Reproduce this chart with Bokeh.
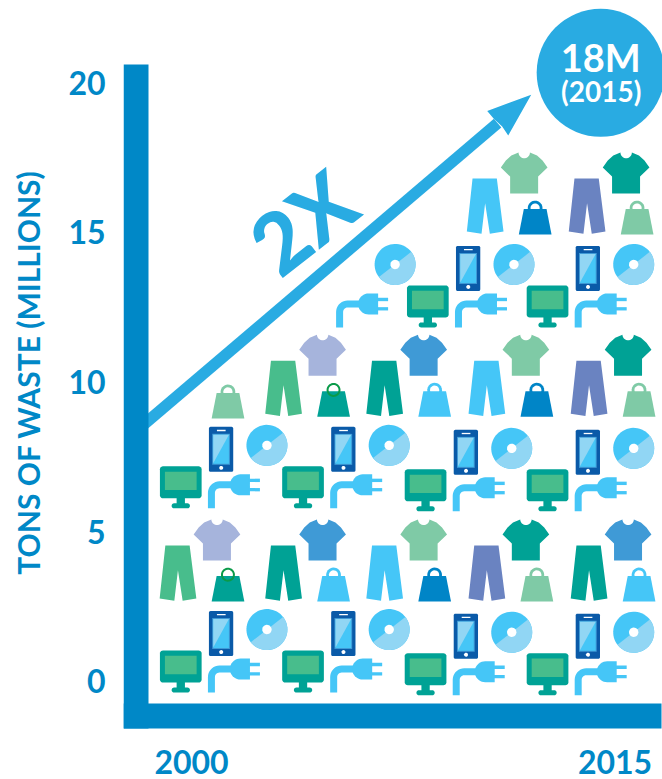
import numpy as np
from bokeh.plotting import figure
from bokeh.models import Range1d, FixedTicker
from bokeh.core.properties import value
from bokeh.embed import file_html
from bokeh.resources import INLINE

# ---- chart values (years / millions of tons) ----
Y_TICKS = [0, 5, 10, 15, 20]
X_TICKS = [2000, 2015]
Y_TITLE = "TONS OF WASTE (MILLIONS)"
CALLOUT_MAIN = "18M"
CALLOUT_SUB = "(2015)"
GROWTH_LABEL = "2X"

ARROW_YEARS = [1998.19, 2010.84]
ARROW_VALUES = [8.55, 18.71]
ARROW_TIP_YEAR = 2012.03
ARROW_TIP_VALUE = 19.66

ELECTRONICS_YEARS = [1998.88, 2003.21, 2007.55, 2011.87, 1998.88, 2003.21, 2007.55, 2011.87, 2007.63, 2011.87]
ELECTRONICS_VALUES = [1.10, 1.10, 1.01, 1.01, 7.25, 7.25, 7.15, 7.15, 13.29, 13.29]
PARTIAL_YEARS = [2003.42]
PARTIAL_VALUES = [13.29]

CLOTHES_YEARS = [1998.87, 2002.61, 2006.19, 2009.81, 2013.43,
                 2002.61, 2006.19, 2009.81, 2013.43,
                 2009.75, 2013.36]
CLOTHES_VALUES = [4.61, 4.61, 4.61, 4.61, 4.61,
                  10.78, 10.78, 10.78, 10.78,
                  16.86, 16.86]
GREEN, LAV, TEAL, BLUE, LIGHT, MINT, DEEP, SLATE = (
    "#48bd8c", "#a6b4dc", "#00a295", "#3f9ad6", "#45c6f7", "#7fcaa6", "#0085c7", "#6a83c1")
PANTS_COLORS = [GREEN, TEAL, LIGHT, SLATE, TEAL, GREEN, TEAL, LIGHT, SLATE, LIGHT, SLATE]
SHIRT_COLORS = [LAV, BLUE, MINT, TEAL, BLUE, LAV, BLUE, MINT, TEAL, MINT, TEAL]
BAG_COLORS = [TEAL, LIGHT, DEEP, MINT, LIGHT, TEAL, LIGHT, DEEP, MINT, DEEP, MINT]
LONE_BAG_YEAR = [1998.87]
LONE_BAG_VALUE = [10.72]
LONE_BAG_COLOR = [MINT]

# ---- layout ----
W, H = 662, 779
LEFT, BOTTOM = 123, 35
X0, X1 = 1997.59, 2016.68
SHIFT = 0.067   # tick labels sit 2px higher than the marks' read-off baseline
Y0, Y1 = -2.037 - SHIFT, 22.805 - SHIFT
AXIS = "#0088c7"
SKY = "#29abe2"
RING = "#0a9a49"
PHONE_D = "#0a5aa8"

PXY = (W - LEFT) / (X1 - X0)
PXM = (H - BOTTOM) / (Y1 - Y0)

p = figure(width=W, height=H, output_backend="svg", toolbar_location=None,
           x_range=Range1d(X0, X1), y_range=Range1d(Y0, Y1),
           min_border_left=LEFT, min_border_bottom=BOTTOM, min_border_top=0, min_border_right=0)
p.outline_line_color = None
p.grid.visible = False
p.background_fill_color = "white"

for ax, ticks in ((p.xaxis[0], X_TICKS), (p.yaxis[0], Y_TICKS)):
    ax.ticker = FixedTicker(ticks=ticks)
    ax.axis_line_color = None
    ax.major_tick_line_color = None
    ax.minor_tick_line_color = None
    ax.major_tick_out = 0
    ax.major_tick_in = 0
    ax.minor_tick_out = 0
    ax.major_label_text_color = AXIS
    ax.major_label_text_font = "Lato"
    ax.major_label_text_font_style = "bold"
p.xaxis[0].major_label_text_font_size = "32px"
p.yaxis[0].major_label_text_font_size = "32px"
p.xaxis[0].major_label_standoff = 5
p.yaxis[0].major_label_standoff = 18
p.yaxis[0].axis_label = Y_TITLE
p.yaxis[0].axis_label_text_color = AXIS
p.yaxis[0].axis_label_text_font = "Lato"
p.yaxis[0].axis_label_text_font_style = "bold"
p.yaxis[0].axis_label_text_font_size = "30px"
p.yaxis[0].axis_label_standoff = 19


def shape(year, val, pts):
    return [year + x / PXY for x, y in pts], [val - SHIFT - y / PXM for x, y in pts]


def arc(cx, cy, r, a0, a1, n=24):
    t = np.radians(np.linspace(a0, a1, n))
    return [(cx + r * np.cos(a), cy + r * np.sin(a)) for a in t]


def rrect(x0, y0, x1, y1, r):
    return (arc(x1 - r, y0 + r, r, -90, 0, 6) + arc(x1 - r, y1 - r, r, 0, 90, 6)
            + arc(x0 + r, y1 - r, r, 90, 180, 6) + arc(x0 + r, y0 + r, r, 180, 270, 6))


def draw(parts):
    xs, ys, cols = [], [], []
    for year, val, pts, col in parts:
        a, b = shape(year, val, pts)
        xs.append(a); ys.append(b); cols.append(col)
    if xs:
        p.patches(xs, ys, fill_color=cols, line_color=None)


# ---- icon outlines in pixels relative to the anchor ----
PANTS = [(5.7, 0), (30, 0), (36.7, 53), (23, 55.3), (18.3, 24.7), (14.7, 55.3), (0, 53)]
SHIRT = ([(9.3, 41), (9.3, 24), (0, 15), (5, 8), (10.5, 3), (17.7, 0)]
         + arc(23.4, 0, 5.7, 180, 0, 14)
         + [(36.2, 3), (41.7, 8), (46.7, 15), (37.3, 24), (37.3, 41)])
BAG_BODY = [(5, 8), (27.7, 8), (32.7, 33.5), (0, 33.5)]
BAG_OUT = arc(16.3, 7, 7.4, 0, 360)
BAG_HOLE = arc(16.3, 7, 4.6, 0, 360)
BAG_RING = arc(16.3, 6.8, 6, 0, 360)
MON_BODY = rrect(0, 0, 41.7, 32, 3)
MON_SCREEN = [(5, 5.3), (36.7, 5.3), (36.7, 23.7), (5, 23.7)]
MON_NECK = [(16.7, 31), (25, 31), (25, 38), (16.7, 38)]
MON_BASE = rrect(11.7, 37, 30, 42, 2.4)
PHONE = rrect(0, 0, 24.3, 45, 1.6)
PH_FRAME = [(3.3, 7), (21, 7), (21, 38), (3.3, 38)]
PH_INNER = [(4.3, 8), (20, 8), (20, 37), (4.3, 37)]
PH_GLARE = [(4.3, 8), (20, 8), (4.3, 36.5)]
PH_SPK = [(8, 3), (16.7, 3), (16.7, 4.3), (8, 4.3)]
PH_BTN = arc(12.3, 41, 2, 0, 360, 14)
DISC_DARK = arc(0, 0, 20.5, 0, 360, 60)
DISC_LIGHT = arc(0, 0, 20.5, -38, 142, 40)
DISC_HOLE = arc(0, 0, 4.7, 0, 360, 20)
PLUG_CORD = ([(0, 34), (0, 18.5)] + arc(11.5, 18.5, 11.5, 180, 270, 10) + [(24, 7), (24, 14)]
             + arc(11.5, 18.5, 4.5, 270, 180, 8) + [(7, 34)])
PLUG_HEAD = arc(32.5, 10.5, 10.5, 90, 270, 20) + [(42, 0), (42, 21)]
PRONG_A = [(41, 4.3), (52, 4.3), (52, 7.7), (41, 7.7)]
PRONG_B = [(41, 13.7), (52, 13.7), (52, 17), (41, 17)]
ARROW_HEAD = [(0, 0), (-44, 16.4), (-37.4, 24), (-29, 31.7), (-23, 40.7)]


def off(pts, dx, dy):
    return [(x + dx, y + dy) for x, y in pts]


# arrow first, axis bars above it
p.line(ARROW_YEARS, [v - SHIFT for v in ARROW_VALUES], line_color=SKY, line_width=11.4)
draw([(ARROW_TIP_YEAR, ARROW_TIP_VALUE, ARROW_HEAD, SKY)])

p.quad(left=[X0], right=[X0 + 25 / PXY], bottom=[Y0 + 16 / PXM], top=[Y1 - 64 / PXM],
       fill_color=AXIS, line_color=None)
p.quad(left=[X0], right=[X1 - 1 / PXY], bottom=[Y0 + 16 / PXM], top=[Y0 + 41 / PXM],
       fill_color=AXIS, line_color=None)

# clothes
parts = []
for year, val, pc, sc, bc in zip(CLOTHES_YEARS, CLOTHES_VALUES, PANTS_COLORS, SHIRT_COLORS, BAG_COLORS):
    parts.append((year, val, PANTS, pc))
    parts.append((year, val, off(SHIRT, 34, -26), sc))
draw(parts)

bags = []
rings_x, rings_y = [], []
for year, val, bc in zip(CLOTHES_YEARS + LONE_BAG_YEAR, CLOTHES_VALUES + LONE_BAG_VALUE, BAG_COLORS + LONE_BAG_COLOR):
    if bc == TEAL:
        bags.append((year, val, off(BAG_BODY, 52, 22.5), bc))
        a, b = shape(year, val, off(BAG_RING, 52, 22.5))
        rings_x.append(a); rings_y.append(b)
    else:
        bags.append((year, val, off(BAG_OUT, 52, 22.5), bc))
        bags.append((year, val, off(BAG_HOLE, 52, 22.5), "white"))
        bags.append((year, val, off(BAG_BODY, 52, 22.5), bc))
draw(bags)
p.patches(rings_x, rings_y, fill_color=None, line_color=RING, line_width=2)

# electronics
DISC_D, DISC_L = "#45c6f7", "#91d6f4"
parts = []
for year, val in zip(ELECTRONICS_YEARS, ELECTRONICS_VALUES):
    parts += [(year, val, MON_BODY, TEAL), (year, val, MON_SCREEN, GREEN),
              (year, val, MON_NECK, TEAL), (year, val, MON_BASE, TEAL)]
    for shp, col in ((PHONE, PHONE_D), (PH_FRAME, "#3f9ad6"), (PH_INNER, DISC_D), (PH_GLARE, DISC_L),
                     (PH_SPK, "white"), (PH_BTN, "white")):
        parts.append((year, val, off(shp, 49, -39.5), col))
for year, val in zip(ELECTRONICS_YEARS + PARTIAL_YEARS, ELECTRONICS_VALUES + PARTIAL_VALUES):
    for shp, col in ((DISC_DARK, DISC_D), (DISC_LIGHT, DISC_L), (DISC_HOLE, "white")):
        parts.append((year, val, off(shp, 107, -21), col))
    for shp in (PLUG_CORD, PLUG_HEAD, PRONG_A, PRONG_B):
        parts.append((year, val, off(shp, 48, 8), LIGHT))
draw(parts)

# callout and growth label
p.scatter([2014.49], [20.39 - SHIFT], size=128, marker="circle", fill_color=SKY, line_color=None)
p.text([2014.49], [20.92 - SHIFT], text=[CALLOUT_MAIN], text_color="white", text_font=value("Lato"),
       text_font_style="bold", text_font_size="38px", text_align="center", text_baseline="middle")
p.text([2014.51], [19.78 - SHIFT], text=[CALLOUT_SUB], text_color="white", text_font=value("Lato"),
       text_font_style="bold", text_font_size="28px", text_align="center", text_baseline="middle")
p.text([2003.92], [15.42 - SHIFT], text=[GROWTH_LABEL], text_color=SKY, text_font=value("Lato Black"),
       text_font_size="84px", text_align="center", text_baseline="middle",
       angle=38, angle_units="deg")

open("out.html", "w").write(file_html(p, INLINE))
